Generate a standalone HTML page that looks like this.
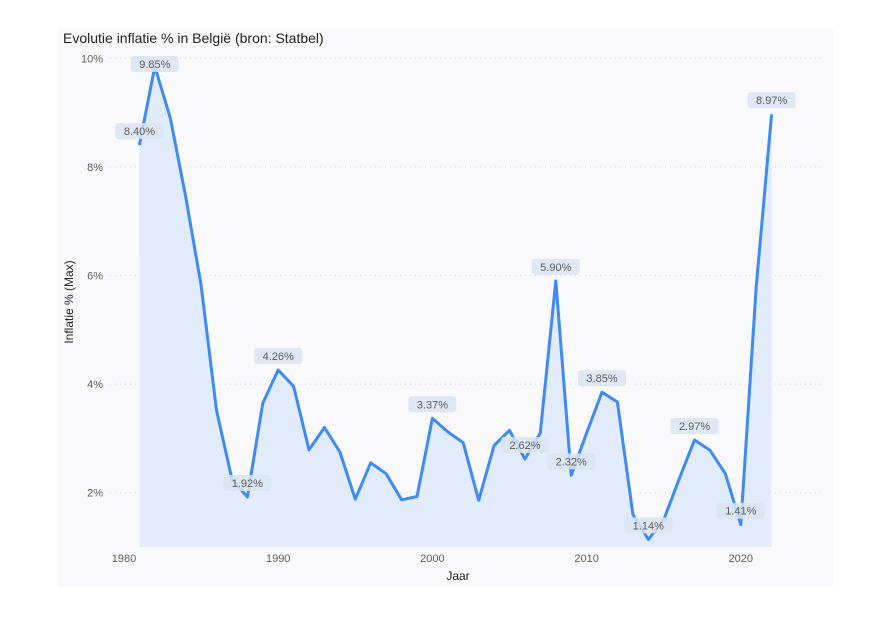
<!DOCTYPE html>
<html><head><meta charset="utf-8"><style>
body{margin:0;background:#fff;width:890px;height:617px;overflow:hidden;font-family:"Liberation Sans",sans-serif}
</style></head><body>
<svg width="890" height="617" xmlns="http://www.w3.org/2000/svg">
<rect x="58" y="28" width="775" height="559" fill="#f9f9fc"/>
<text x="63" y="43" font-size="14" fill="#252423">Evolutie inflatie % in België (bron: Statbel)</text>
<g id="grid"></g><g id="area"></g><g id="labels"></g><g id="axes"></g>
<text x="458" y="580" font-size="12" fill="#252423" text-anchor="middle">Jaar</text>
<text transform="translate(73,302) rotate(-90)" font-size="12" fill="#252423" text-anchor="middle">Inflatie % (Max)</text>
</svg>
<script>
const years=[1981,1982,1983,1984,1985,1986,1987,1988,1989,1990,1991,1992,1993,1994,1995,1996,1997,1998,1999,2000,2001,2002,2003,2004,2005,2006,2007,2008,2009,2010,2011,2012,2013,2014,2015,2016,2017,2018,2019,2020,2021,2022];
const values=[8.40,9.85,8.9,7.45,5.82,3.52,2.25,1.92,3.65,4.26,3.96,2.79,3.2,2.75,1.88,2.55,2.35,1.87,1.93,3.37,3.12,2.92,1.86,2.87,3.15,2.62,3.1,5.90,2.32,3.1,3.85,3.67,1.6,1.14,1.5,2.25,2.97,2.78,2.35,1.41,5.79,8.97];
const labeledYears=[1981,1982,1988,1990,2000,2006,2008,2009,2011,2014,2017,2020,2022];
const yTicks=[2,4,6,8,10];
const xTicks=[1980,1990,2000,2010,2020];
const NS="http://www.w3.org/2000/svg";
const x=v=>124+(v-1980)*15.42;
const y=v=>547-(v-1)*54.3;
function mk(t,a,p){const e=document.createElementNS(NS,t);for(const k in a)e.setAttribute(k,a[k]);p.appendChild(e);return e;}
const grid=document.getElementById('grid'),axes=document.getElementById('axes'),area=document.getElementById('area'),labels=document.getElementById('labels');
yTicks.forEach(t=>{
 const l=mk('line',{x1:110,x2:825,y1:y(t),y2:y(t),stroke:'#d8d8d8','stroke-dasharray':'1 4'},grid);
 
 
 const tx=mk('text',{x:103,y:y(t)+4,'font-size':11,fill:'#605e5c','text-anchor':'end'},axes);
 tx.textContent=t+'%';
 
 
});
xTicks.forEach(t=>{
 const tx=mk('text',{x:x(t),y:562,'font-size':11,fill:'#605e5c','text-anchor':'middle'},axes);
 tx.textContent=t;
 
 
});
let pts=years.map((yr,i)=>x(yr).toFixed(1)+','+y(values[i]).toFixed(1));
const ar=mk('polygon',{points:x(years[0])+','+y(1)+' '+pts.join(' ')+' '+x(years[years.length-1])+','+y(1),fill:'#e1ebfb'},area);


const ln=mk('polyline',{points:pts.join(' '),fill:'none',stroke:'#3e8bf5','stroke-width':3,'stroke-linejoin':'round'},area);


labeledYears.forEach(yr=>{
 const v=values[years.indexOf(yr)];
 let cy=Math.max(y(v)-14,64);
 const g=mk('g',{},labels);
 
 
 mk('rect',{x:x(yr)-24,y:cy-8,width:48,height:16,rx:3,fill:'#dbe4f2','fill-opacity':0.85},g);
 const t=mk('text',{x:x(yr),y:cy+4,'font-size':11,fill:'#605e5c','text-anchor':'middle'},g);
 t.textContent=v.toFixed(2)+'%';
});
</script>
</body></html>
